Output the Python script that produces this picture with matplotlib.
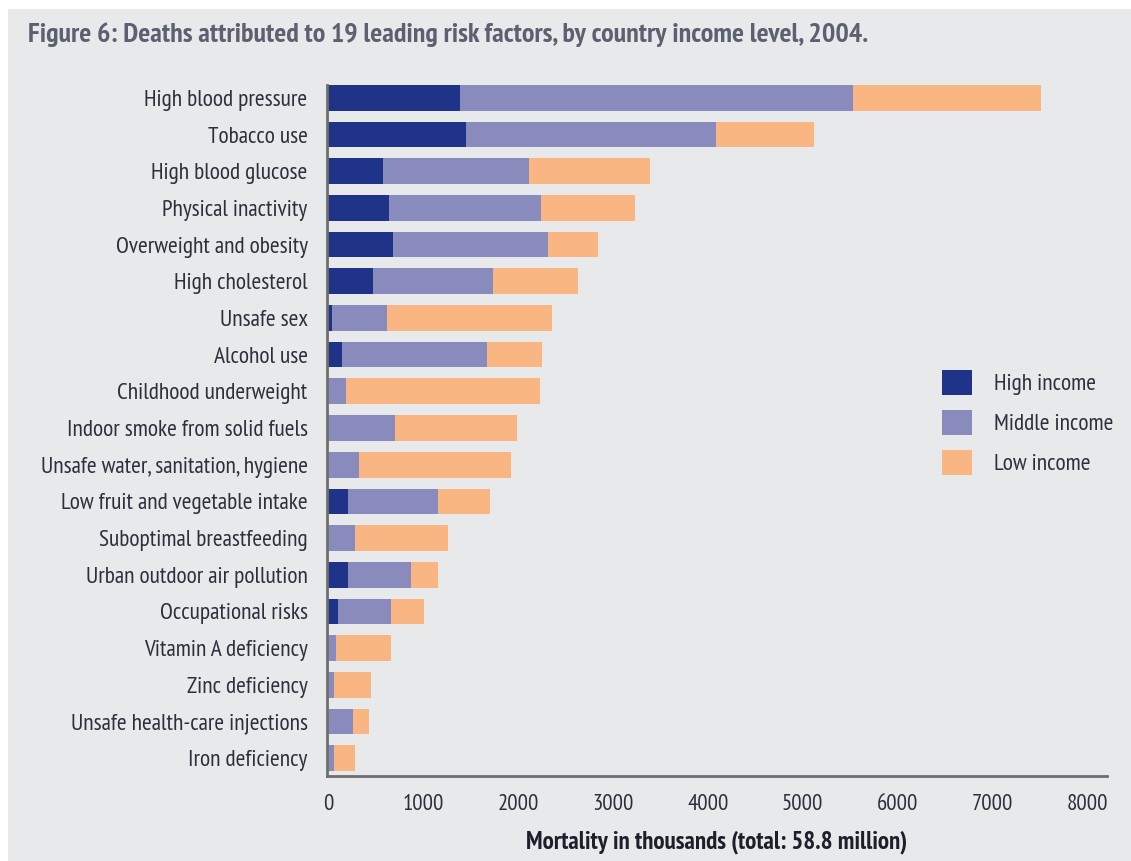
import matplotlib
matplotlib.use("Agg")
import matplotlib.pyplot as plt
from matplotlib.patches import Rectangle
import numpy as np

# data (thousands of deaths, 2004)
factors = ["High blood pressure", "Tobacco use", "High blood glucose",
           "Physical inactivity", "Overweight and obesity", "High cholesterol",
           "Unsafe sex", "Alcohol use", "Childhood underweight",
           "Indoor smoke from solid fuels", "Unsafe water, sanitation, hygiene",
           "Low fruit and vegetable intake", "Suboptimal breastfeeding",
           "Urban outdoor air pollution", "Occupational risks",
           "Vitamin A deficiency", "Zinc deficiency",
           "Unsafe health-care injections", "Iron deficiency"]
high_income = [1384, 1447, 574, 637, 679, 473, 35, 140, 0, 0, 0, 203, 0, 203, 98, 0, 0, 0, 0]
middle_income = [4152, 2639, 1539, 1602, 1640, 1265, 585, 1535, 182, 700, 326, 953, 284, 666, 561, 80, 56, 263, 56]
low_income = [1974, 1037, 1283, 992, 519, 893, 1741, 581, 2053, 1287, 1598, 543, 978, 287, 350, 575, 392, 168, 228]
xticks = [0, 1000, 2000, 3000, 4000, 5000, 6000, 7000, 8000]

# warna
c_high = "#1f3489"
c_mid = "#8a8bbd"
c_low = "#f9b582"
bg = "#e8e9eb"
txt = "#2e2f3c"

plt.rcParams["font.family"] = ["PT Sans Narrow", "DejaVu Sans"]

fig = plt.figure(figsize=(11.31, 8.61), dpi=100)
fig.patch.set_facecolor("white")
fig.patches.append(Rectangle((8 / 1131, 0), 1, 1 - 9 / 861, transform=fig.transFigure,
                             facecolor=bg, edgecolor="none", zorder=-10))

ax = fig.add_axes([327 / 1131, 0.0991, (1107 - 327) / 1131, 0.9013 - 0.0991])
ax.set_facecolor("none")

y = np.arange(len(factors))
hi = np.array(high_income)
mi = np.array(middle_income)
lo = np.array(low_income)
ax.barh(y, hi, height=0.7, color=c_high, label="High income")
ax.barh(y, mi, left=hi, height=0.7, color=c_mid, label="Middle income")
ax.barh(y, lo, left=hi + mi, height=0.7, color=c_low, label="Low income")

ax.set_ylim(len(factors) - 1 + 0.477, -0.35)
ax.set_xlim(-15, 8210)
ax.set_yticks(y)
ax.set_yticklabels(factors, fontsize=16.8, color=txt)
ax.set_xticks(xticks)
ax.set_xticklabels([str(v) for v in xticks], fontsize=16.5, color=txt)
ax.tick_params(axis="both", length=0)
ax.tick_params(axis="y", pad=14)
ax.tick_params(axis="x", pad=13)

for s in ["top", "right"]:
  ax.spines[s].set_visible(False)
for s in ["left", "bottom"]:
  ax.spines[s].set_color("#6e6e6e")
  ax.spines[s].set_linewidth(2)

ax.set_xlabel("Mortality in thousands (total: 58.8 million)", fontsize=18,
              fontweight="bold", color="#1e1f2a", labelpad=11)

fig.text(28 / 1131, 1 - 35 / 861,
         "Figure 6: Deaths attributed to 19 leading risk factors, by country income level, 2004.",
         fontsize=20.2, fontweight="bold", color="#5b6170", ha="left", va="center")

ax.legend(loc="upper left", bbox_to_anchor=(930 / 1131, 1 - 358 / 861),
          bbox_transform=fig.transFigure, frameon=False, fontsize=16.8,
          handlelength=1.3, handleheight=1.3, handletextpad=0.95,
          labelspacing=0.62, borderpad=0, labelcolor=txt)

fig.savefig("out.png", dpi=100, facecolor=fig.get_facecolor())
